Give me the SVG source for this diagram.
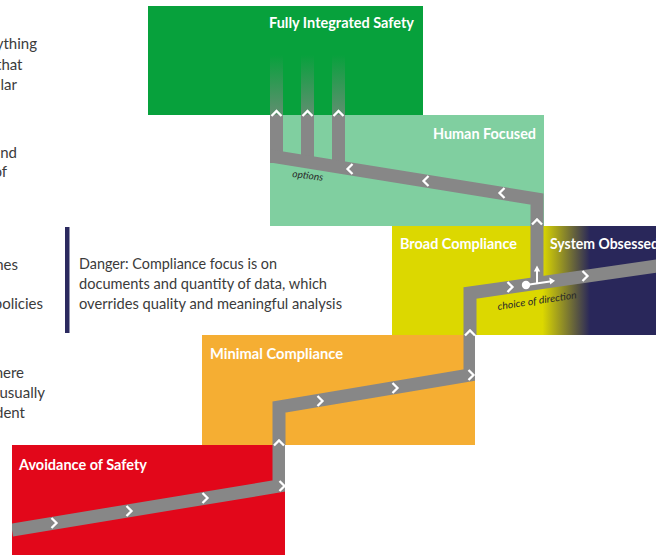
<svg xmlns="http://www.w3.org/2000/svg" width="656" height="555" viewBox="0 0 656 555">
  <defs>
    <style>
      .title{font-family:Lato,"Open Sans","DejaVu Sans",sans-serif;font-weight:bold;font-size:15px;fill:#ffffff}
      .body{font-family:Lato,"Open Sans","DejaVu Sans",sans-serif;font-size:15px;fill:#3b3b3b}
      .note{font-family:Lato,"Open Sans","DejaVu Sans",sans-serif;font-style:italic;font-size:10px;fill:#2a2a2a}
      .track{fill:none;stroke:#878787;stroke-width:13;stroke-linejoin:miter;stroke-miterlimit:10}
      .chev{fill:none;stroke:#ffffff;stroke-width:2.3;stroke-linejoin:miter}
      .pointer{fill:none;stroke:#ffffff;stroke-width:2}
    </style>
    <linearGradient id="broadGrad" x1="392" y1="0" x2="656" y2="0" gradientUnits="userSpaceOnUse">
      <stop offset="0" stop-color="#dcd800"/>
      <stop offset="0.57" stop-color="#dcd800"/>
      <stop offset="0.75" stop-color="#29275a"/>
      <stop offset="1" stop-color="#29275a"/>
    </linearGradient>
    <linearGradient id="fade" x1="0" y1="55" x2="0" y2="115" gradientUnits="userSpaceOnUse">
      <stop offset="0" stop-color="#878787" stop-opacity="0"/>
      <stop offset="1" stop-color="#878787" stop-opacity="0.7"/>
    </linearGradient>
    <path id="chevR" class="chev" d="M-2.5,-5 L2.5,0 L-2.5,5"/>
    <path id="chevL" class="chev" d="M2.5,-5 L-2.5,0 L2.5,5"/>
    <path id="chevU" class="chev" d="M-5,2.5 L0,-2.5 L5,2.5"/>
    <clipPath id="boxes">
      <rect x="148" y="6" width="275" height="109"/>
      <rect x="270" y="115" width="274" height="111"/>
      <rect x="392" y="226" width="264" height="109"/>
      <rect x="202" y="335" width="273" height="110"/>
      <rect x="12" y="445" width="273" height="110"/>
    </clipPath>
  </defs>

  <!-- surrounding text, cut by the left edge -->
  <g id="side-text" class="body" text-anchor="end">
    <text x="37" y="49">ything</text>
    <text x="22.5" y="69.5">that</text>
    <text x="17" y="90">lar</text>
    <text x="17" y="158">nd</text>
    <text x="7" y="177">of</text>
    <text x="18" y="270">nes</text>
    <text x="43" y="309">policies</text>
    <text x="24" y="378">here</text>
    <text x="45" y="398">usually</text>
    <text x="25" y="418">dent</text>
  </g>

  <!-- warning note -->
  <g id="danger-note">
    <rect x="65" y="227" width="4.5" height="106" fill="#2b2a5f"/>
    <text class="body" x="79" y="269" textLength="198" lengthAdjust="spacingAndGlyphs">Danger: Compliance focus is on</text>
    <text class="body" x="79" y="289" textLength="248" lengthAdjust="spacingAndGlyphs">documents and quantity of data, which</text>
    <text class="body" x="79" y="309" textLength="263" lengthAdjust="spacingAndGlyphs">overrides quality and meaningful analysis</text>
  </g>

  <!-- stages -->
  <g id="fully-integrated-safety">
    <rect x="148" y="6" width="275" height="109" fill="#07a13c"/>
    <text class="title" x="269" y="28" textLength="145" lengthAdjust="spacingAndGlyphs">Fully Integrated Safety</text>
  </g>
  <g id="human-focused">
    <rect x="270" y="115" width="274" height="111" fill="#80cfa0"/>
    <text class="title" x="433" y="139" textLength="103" lengthAdjust="spacingAndGlyphs">Human Focused</text>
  </g>
  <g id="broad-compliance">
    <rect x="392" y="226" width="264" height="109" fill="url(#broadGrad)"/>
    <text class="title" x="400" y="249" textLength="117" lengthAdjust="spacingAndGlyphs">Broad Compliance</text>
  </g>
  <g id="system-obsessed">
    <text class="title" x="550" y="249" textLength="109" lengthAdjust="spacingAndGlyphs">System Obsessed</text>
  </g>
  <g id="minimal-compliance">
    <rect x="202" y="335" width="273" height="110" fill="#f5ae33"/>
    <text class="title" x="210" y="359" textLength="133" lengthAdjust="spacingAndGlyphs">Minimal Compliance</text>
  </g>
  <g id="avoidance-of-safety">
    <rect x="12" y="445" width="273" height="110" fill="#e2071a"/>
    <text class="title" x="19" y="470" textLength="128" lengthAdjust="spacingAndGlyphs">Avoidance of Safety</text>
  </g>

  <!-- progression track -->
  <g id="connectors" clip-path="url(#boxes)">
    <rect x="270" y="55" width="13" height="60" fill="url(#fade)"/>
    <rect x="301" y="55" width="13" height="60" fill="url(#fade)"/>
    <rect x="332" y="55" width="13" height="60" fill="url(#fade)"/>
    <line class="track" x1="276.5" y1="115" x2="276.5" y2="163"/>
    <line class="track" x1="307.5" y1="115" x2="307.5" y2="166"/>
    <line class="track" x1="338.5" y1="115" x2="338.5" y2="171"/>
    <polyline class="track" points="537,287 537,199 262,154.7"/>
    <polyline class="track" points="12,530 279,486 279,407 470,375 470,293 662,265.2"/>

    <use href="#chevR" x="54" y="523"/>
    <use href="#chevR" x="129" y="511"/>
    <use href="#chevR" x="205" y="498"/>
    <use href="#chevR" x="282" y="486"/>
    <use href="#chevR" x="320" y="401"/>
    <use href="#chevR" x="395" y="388"/>
    <use href="#chevR" x="471" y="375"/>
    <use href="#chevR" x="510" y="287"/>
    <use href="#chevR" x="585" y="276"/>
    <use href="#chevL" x="350" y="169"/>
    <use href="#chevL" x="426" y="181"/>
    <use href="#chevL" x="502" y="193"/>
    <use href="#chevU" x="279" y="443"/>
    <use href="#chevU" x="470" y="333"/>
    <use href="#chevU" x="537" y="222"/>
    <use href="#chevU" x="276.5" y="113.5"/>
    <use href="#chevU" x="307.5" y="113.5"/>
    <use href="#chevU" x="338.5" y="113.5"/>

    <!-- decision point -->
    <circle cx="526" cy="285" r="4.2" fill="#ffffff"/>
    <line class="pointer" x1="526" y1="285" x2="550" y2="281.5"/>
    <polygon points="555,280.8 549.3,277.6 550.2,284.4" fill="#ffffff"/>
    <line class="pointer" x1="537" y1="283.5" x2="537" y2="270"/>
    <polygon points="537,265.5 533.8,271.5 540.2,271.5" fill="#ffffff"/>

    <text class="note" transform="translate(292,177) rotate(7)" font-size="9.5" textLength="31" lengthAdjust="spacingAndGlyphs">options</text>
    <text class="note" transform="translate(498,310) rotate(-8.5)" textLength="80" lengthAdjust="spacingAndGlyphs">choice of direction</text>
  </g>
</svg>
